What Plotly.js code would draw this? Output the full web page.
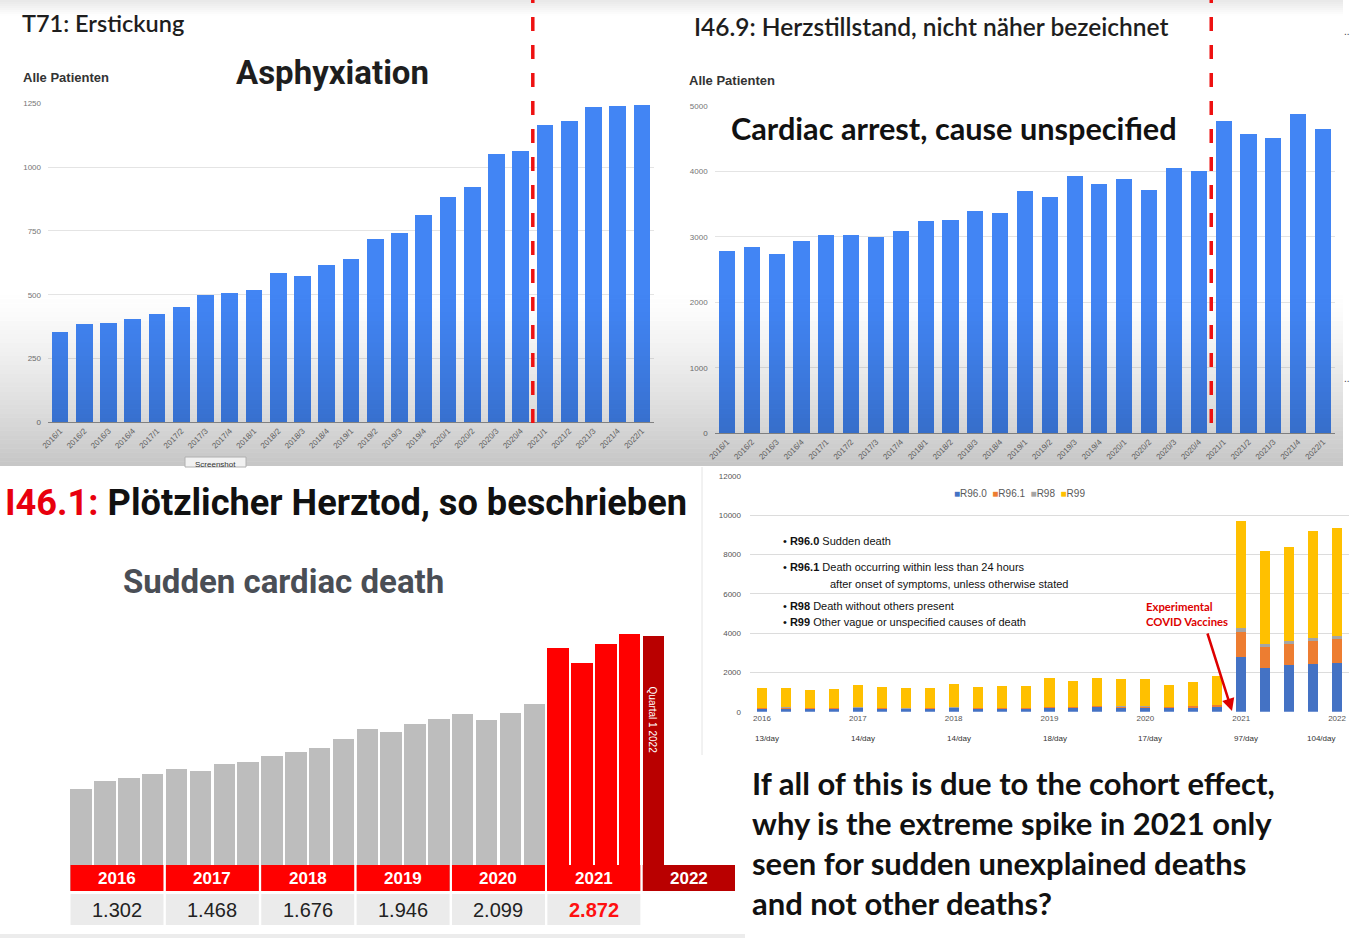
<!DOCTYPE html>
<html><head><meta charset="utf-8">
<script src="https://cdn.plot.ly/plotly-3.0.1.min.js"></script>
<style>html,body{margin:0;padding:0;background:#fff;overflow:hidden}#chart{width:1354px;height:938px;}</style>
</head><body><div id="chart"></div>
<script>
// ---------- DATA ----------
const quarters = ['2016/1','2016/2','2016/3','2016/4','2017/1','2017/2','2017/3','2017/4',
  '2018/1','2018/2','2018/3','2018/4','2019/1','2019/2','2019/3','2019/4',
  '2020/1','2020/2','2020/3','2020/4','2021/1','2021/2','2021/3','2021/4','2022/1'];
// T71: Erstickung (Asphyxiation), alle Patienten
const t71Values = [355,384,390,403,426,451,498,508,518,585,575,618,641,718,740,812,884,922,1051,1064,1166,1179,1234,1239,1245];
// I46.9: Herzstillstand, nicht naeher bezeichnet
const i469Values = [2787,2843,2736,2935,3031,3031,2996,3092,3235,3260,3392,3357,3697,3611,3926,3804,3886,3713,4048,3998,4771,4562,4506,4867,4638];
// I46.1: Ploetzlicher Herztod (quarterly)
const i461Values = [300,323,334,345,361,354,374,379,397,411,421,447,477,470,492,507,521,503,525,550,716,671,728,757,751];
const i461Years = ['2016','2017','2018','2019','2020','2021'];
const i461Totals = ['1.302','1.468','1.676','1.946','2.099','2.872'];
// R96/R98/R99 stacked
const r960 = [150,160,130,140,170,140,120,140,170,130,150,150,190,190,220,200,200,170,210,250,2800,2240,2360,2410,2490];
const r961 = [40,40,40,40,40,40,40,40,40,40,40,40,50,50,60,60,60,50,60,90,1270,1050,1060,1200,1210];
const r98  = [20,20,20,20,20,20,20,20,20,20,20,20,20,20,20,20,20,20,20,20,170,150,170,150,130];
const r99  = [1010,1000,930,970,1130,1070,1040,1020,1160,1080,1100,1110,1440,1280,1430,1360,1400,1130,1200,1450,5460,4740,4780,5430,5490];
const rNames = ['R96.0','R96.1','R98','R99'];
const rYearTicks = ['2016/1','2017/1','2018/1','2019/1','2020/1','2021/1','2022/1'];
const rYearLabels = ['2016','2017','2018','2019','2020','2021','2022'];
const rPerDay = ['13/day','14/day','14/day','18/day','17/day','97/day','104/day'];

// ---------- HELPERS ----------
const W = 1354, H = 938;
const X = px => px / W, Y = py => 1 - py / H;
const rColors = ['#4472C4','#ED7D31','#A5A5A5','#FFC000'];
const blue = '#4285f4';

const i461Colors = quarters.map(q => q.startsWith('2022') ? '#b90000' : (q.startsWith('2021') ? '#ff0000' : '#bdbdbd'));

const traces = [
  {type:'bar', x:quarters, y:t71Values, xaxis:'x', yaxis:'y', width:0.69, marker:{color:blue}, hoverinfo:'skip'},
  {type:'bar', x:quarters, y:i469Values, xaxis:'x2', yaxis:'y2', width:0.645, marker:{color:blue}, hoverinfo:'skip'},
  {type:'bar', x:quarters, y:i461Values, xaxis:'x3', yaxis:'y3', width:0.9, marker:{color:i461Colors}, hoverinfo:'skip'}
];
[r960, r961, r98, r99].forEach((s, k) => traces.push({
  type:'bar', name:rNames[k], x:quarters, y:s, xaxis:'x4', yaxis:'y4', width:0.42,
  marker:{color:rColors[k]}, hoverinfo:'skip'
}));

// ---------- SHAPES ----------
const shapes = [];
i461Years.forEach((yr, i) => {
  shapes.push({type:'rect', xref:'x3', yref:'paper', x0:4*i-0.45, x1:4*i+3.45, y0:Y(925), y1:Y(894),
    fillcolor:'#ebebeb', line:{width:0}, layer:'below'});
  shapes.push({type:'rect', xref:'x3', yref:'paper', x0:4*i-0.45, x1:4*i+3.45, y0:Y(891), y1:Y(865),
    fillcolor:'#ff0000', line:{width:0}, layer:'above'});
});
shapes.push({type:'rect', xref:'x3', yref:'paper', x0:23.55, x1:27.42, y0:Y(891), y1:Y(865),
  fillcolor:'#b90000', line:{width:0}, layer:'above'});
shapes.push({type:'rect', xref:'paper', yref:'paper', x0:0, x1:X(745), y0:0, y1:Y(934), fillcolor:'#ececec', line:{width:0}, layer:'below'});
shapes.push({type:'line', xref:'paper', yref:'paper', x0:X(702), x1:X(702), y0:Y(755), y1:Y(467), line:{color:'#e4e4e4', width:1}, layer:'below'});
const N = 40;
for (let i = 0; i < N; i++) {
  const y0 = 290 + i * 176 / N, y1 = y0 + 176 / N;
  const t = (i + 0.5) / N;
  shapes.push({type:'rect', xref:'paper', yref:'paper', x0:0, x1:X(1343), y0:Y(y1), y1:Y(y0),
    fillcolor:'rgba(0,0,0,' + (0.225 * Math.pow(t, 1.3)).toFixed(4) + ')', line:{width:0}, layer:'above'});
}
const M = 8;
for (let i = 0; i < M; i++) {
  const y0 = i * 2, y1 = y0 + 2;
  const t = (i + 0.5) / M;
  shapes.push({type:'rect', xref:'paper', yref:'paper', x0:0, x1:X(1343), y0:Y(y1), y1:Y(y0),
    fillcolor:'rgba(0,0,0,' + (0.09 * (1 - t)).toFixed(4) + ')', line:{width:0}, layer:'above'});
}
shapes.push({type:'rect', xref:'paper', yref:'paper', x0:X(185), x1:X(246), y0:Y(467), y1:Y(457), fillcolor:'#f1f1f1', line:{color:'#b0b0b0', width:1}, layer:'above'});
shapes.push({type:'line', xref:'x', yref:'paper', x0:19.5, x1:19.5, y0:Y(423), y1:1, line:{color:'#ee1111', width:3.5, dash:'14px,14px'}, layer:'above'});
shapes.push({type:'line', xref:'x2', yref:'paper', x0:19.5, x1:19.5, y0:Y(423), y1:1, line:{color:'#ee1111', width:3.5, dash:'14px,14px'}, layer:'above'});

// ---------- ANNOTATIONS ----------
const ann = [];
function T(text, px, py, size, color, family, extra) {
  ann.push(Object.assign({xref:'paper', yref:'paper', x:X(px), y:Y(py), xanchor:'left', yanchor:'middle', align:'left',
    showarrow:false, text:text, font:{size:size, color:color, family:family}}, extra || {}));
}
const ARIAL = 'Liberation Sans, Arial, sans-serif';
const CAL = 'Lato, Carlito, Calibri, sans-serif';
const NARROW = 'Liberation Sans Narrow, Roboto, Arial, sans-serif';
T('T71: Erstickung', 20, 23, 23.5, '#1e1e1e', CAL, {font:{size:23.5, color:'#1e1e1e', family:CAL, weight:600}});
T('<b>Alle Patienten</b>', 21, 78, 13, '#333', ARIAL);
T('<b>Asphyxiation</b>', 234, 72, 33, '#1e1e1e', NARROW);
T('I46.9: Herzstillstand, nicht näher bezeichnet', 692, 26, 24.5, '#1e1e1e', CAL, {font:{size:24.5, color:'#1e1e1e', family:CAL, weight:600}});
T('<b>Alle Patienten</b>', 687, 80, 13, '#333', ARIAL);
T('<b>Cardiac arrest, cause unspecified</b>', 729, 128, 30.7, '#111', CAL);
T('..', 1342, 31, 10, '#444', ARIAL);
T('..', 1342, 378, 10, '#444', ARIAL);
T('Screenshot', 193, 464, 8, '#333', ARIAL);
T('<b><span style="color:#e8000d">I46.1:</span> Plötzlicher Herztod, so beschrieben</b>', 3, 502, 36.2, '#111', NARROW);
T('<b>Sudden cardiac death</b>', 121, 581, 33, '#4a4e55', NARROW);
i461Years.forEach((yr, i) => {
  ann.push({xref:'x3', yref:'paper', x:4*i+1.5, y:Y(878), showarrow:false, text:'<b>'+yr+'</b>',
    font:{size:17, color:'#ffffff', family:ARIAL}, xanchor:'center', yanchor:'middle'});
  const last = i === i461Years.length - 1;
  ann.push({xref:'x3', yref:'paper', x:4*i+1.5, y:Y(910), showarrow:false,
    text: last ? '<b>'+i461Totals[i]+'</b>' : i461Totals[i],
    font:{size:20, color: last ? '#ff1010' : '#222', family:ARIAL}, xanchor:'center', yanchor:'middle'});
});
ann.push({xref:'x3', yref:'paper', x:25.5, y:Y(878), showarrow:false, text:'<b>2022</b>',
  font:{size:17, color:'#ffffff', family:ARIAL}, xanchor:'center', yanchor:'middle'});
ann.push({xref:'x3', yref:'paper', x:24, y:Y(720), showarrow:false, text:'Quartal 1 2022', textangle:90,
  font:{size:10, color:'#ffffff', family:ARIAL}, xanchor:'center', yanchor:'middle'});
ann.push({xref:'paper', yref:'paper', x:X(1019), y:Y(494), showarrow:false, xanchor:'center', yanchor:'middle',
  text: rNames.map((n, k) => '<span style="color:'+rColors[k]+'">■</span>' + n).join('  '),
  font:{size:10, color:'#595959', family:ARIAL}});
rYearTicks.forEach((q, i) => {
  const lastLbl = i === rYearTicks.length - 1;
  ann.push({xref:'x4', yref:'paper', x:quarters.indexOf(q), y:Y(738), xshift: lastLbl ? 0 : 5, showarrow:false,
    text:rPerDay[i], font:{size:8, color:'#333', family:ARIAL}, xanchor: lastLbl ? 'right' : 'center', yanchor:'middle'});
});
T('• <b>R96.0</b> Sudden death', 781, 541, 11, '#111', ARIAL);
T('• <b>R96.1</b> Death occurring within less than 24 hours', 781, 567, 11, '#111', ARIAL);
T('after onset of symptoms, unless otherwise stated', 828, 584, 11, '#111', ARIAL);
T('• <b>R98</b> Death without others present', 781, 606, 11, '#111', ARIAL);
T('• <b>R99</b> Other vague or unspecified causes of death', 781, 622, 11, '#111', ARIAL);
T('<b>Experimental<br>COVID Vaccines</b>', 1144, 614, 11.3, '#dd0000', CAL);
ann.push({xref:'paper', yref:'paper', x:X(1232), y:Y(711), ax:-25, ay:-79, text:'', showarrow:true,
  arrowhead:2, arrowsize:1, arrowwidth:2.5, arrowcolor:'#dd0000'});
T('<b>If all of this is due to the cohort effect,</b>', 750, 783, 31, '#111', CAL);
T('<b>why is the extreme spike in 2021 only</b>', 750, 823, 31, '#111', CAL);
T('<b>seen for sudden unexplained deaths</b>', 750, 863, 31, '#111', CAL);
T('<b>and not other deaths?</b>', 750, 903, 31, '#111', CAL);

// ---------- LAYOUT ----------
const tickTop = {size:8, color:'#757575', family:ARIAL};
const layout = {
  width:W, height:H, margin:{l:0,r:0,t:0,b:0}, paper_bgcolor:'#ffffff', plot_bgcolor:'rgba(0,0,0,0)',
  showlegend:false, barmode:'stack', hovermode:false,
  xaxis:{domain:[X(48),X(654)], anchor:'y', type:'category', range:[-0.5,24.5], tickangle:-45, tickfont:tickTop,
    showline:true, linecolor:'#9a9a9a', ticks:'', showgrid:false, fixedrange:true},
  yaxis:{domain:[Y(422.3),Y(103.3)], anchor:'x', range:[0,1250], tickvals:[0,250,500,750,1000,1250],
    tickfont:tickTop, gridcolor:'#e4e4e4', zeroline:false, ticklabelstandoff:6, fixedrange:true},
  xaxis2:{domain:[X(714.6),X(1335.4)], anchor:'y2', type:'category', range:[-0.5,24.5], tickangle:-45, tickfont:tickTop,
    showline:true, linecolor:'#9a9a9a', ticks:'', showgrid:false, fixedrange:true},
  yaxis2:{domain:[Y(433.3),Y(105.7)], anchor:'x2', range:[0,5000], tickvals:[0,1000,2000,3000,4000,5000],
    tickfont:tickTop, gridcolor:'#e4e4e4', zeroline:false, ticklabelstandoff:6, fixedrange:true},
  xaxis3:{domain:[X(69.3),X(735)], anchor:'y3', type:'category', range:[-0.5,27.42],
    showticklabels:false, showgrid:false, zeroline:false, showline:false, ticks:'', fixedrange:true},
  yaxis3:{domain:[Y(891),Y(620)], anchor:'x3', range:[0,271*2.948],
    showticklabels:false, showgrid:false, zeroline:false, showline:false, ticks:'', fixedrange:true},
  xaxis4:{domain:[X(750),X(1349)], anchor:'y4', type:'category', range:[-0.5,24.5], tickvals:rYearTicks, ticktext:rYearLabels,
    tickangle:0, tickfont:{size:8, color:'#555', family:ARIAL}, showgrid:false, showline:false, ticks:'', fixedrange:true},
  yaxis4:{domain:[Y(711.7),Y(475.7)], anchor:'x4', range:[0,12000], tickvals:[0,2000,4000,6000,8000,10000,12000],
    tickformat:'d', tickfont:{size:8, color:'#555', family:ARIAL}, gridcolor:'#dcdcdc', zeroline:false, ticklabelstandoff:8, fixedrange:true},
  shapes:shapes, annotations:ann
};
Plotly.newPlot('chart', traces, layout, {staticPlot:true, displayModeBar:false});
</script></body></html>
